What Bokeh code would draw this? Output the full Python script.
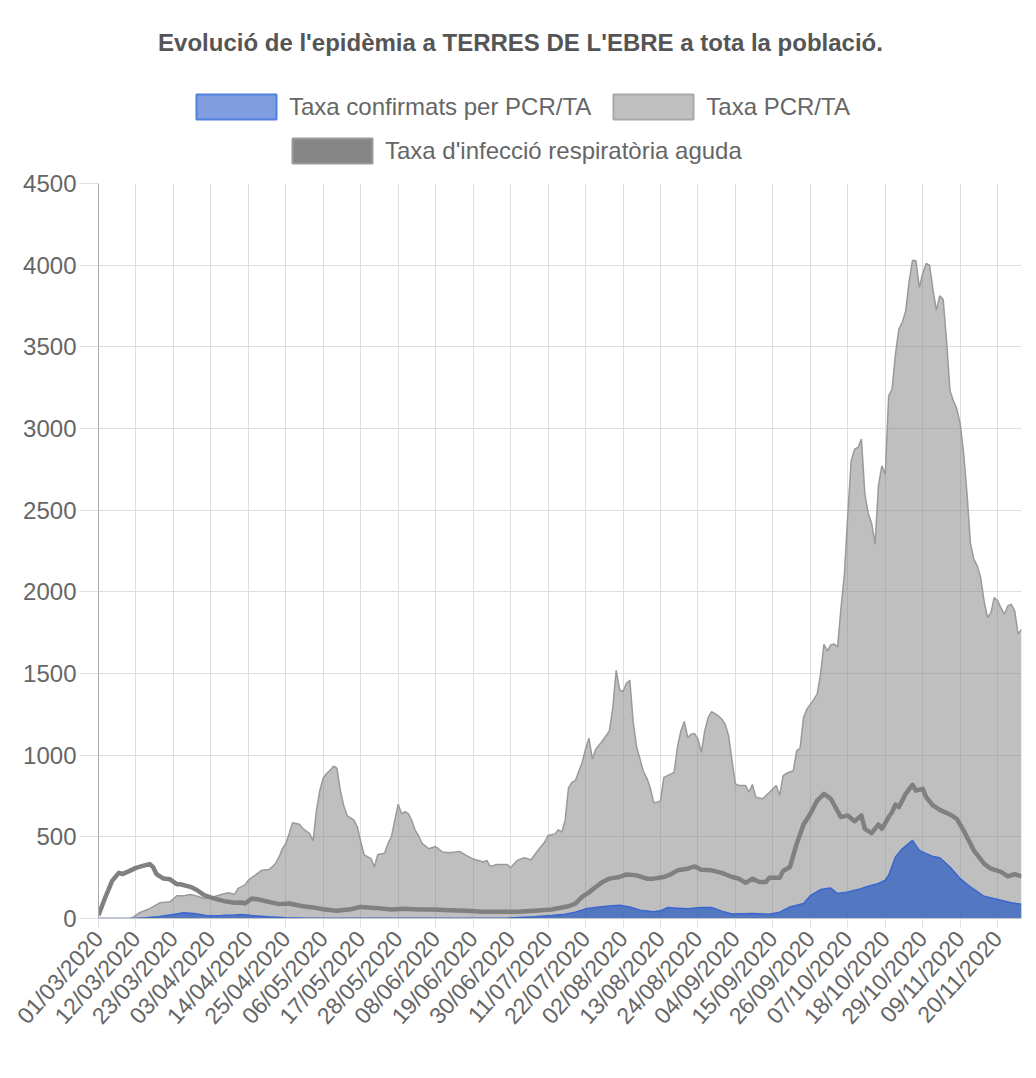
import pandas as pd
from math import radians
from bokeh.plotting import figure
from bokeh.layouts import column
from bokeh.models import Legend, LegendItem, FixedTicker, Range1d, Label
from bokeh.embed import file_html
from bokeh.resources import INLINE

# ---------------- data ----------------
START = "01/03/2020"
END = "27/11/2020"

tick_labels = ["01/03/2020", "12/03/2020", "23/03/2020", "03/04/2020", "14/04/2020",
               "25/04/2020", "06/05/2020", "17/05/2020", "28/05/2020", "08/06/2020",
               "19/06/2020", "30/06/2020", "11/07/2020", "22/07/2020", "02/08/2020",
               "13/08/2020", "24/08/2020", "04/09/2020", "15/09/2020", "26/09/2020",
               "07/10/2020", "18/10/2020", "29/10/2020", "09/11/2020", "20/11/2020"]

y_ticks = [0, 500, 1000, 1500, 2000, 2500, 3000, 3500, 4000, 4500]

# Taxa PCR/TA : day offset since 01/03/2020 -> value
pcr_day = [0, 9, 10, 12, 15, 18, 21, 23, 25, 27, 29, 31, 33, 36, 38, 40, 41, 43, 44, 46,
           48, 50, 51, 52, 53, 54, 55, 56, 57, 59, 60, 62, 63, 64, 65, 66, 67, 68, 69, 70,
           71, 72, 73, 75, 76, 77, 78, 80, 81, 82, 84, 85, 86, 87, 88, 89, 90, 91, 92, 93,
           94, 95, 97, 99, 101, 103, 106, 108, 110, 113, 114, 115, 117, 120, 121, 123, 125,
           127, 129, 131, 132, 134, 135, 136, 137, 138, 139, 140, 142, 143, 144, 145, 146,
           148, 150, 151, 152, 153, 154, 155, 156, 157, 158, 159, 160, 161, 162, 163, 164,
           165, 166, 168, 169, 170, 171, 172, 173, 174, 175, 176, 177, 178, 179, 180, 182,
           183, 184, 185, 186, 187, 188, 190, 191, 192, 193, 195, 197, 199, 200, 201, 202,
           204, 205, 206, 207, 208, 210, 211, 212, 213, 214, 215, 216, 217, 218, 219, 220,
           221, 222, 223, 224, 225, 226, 227, 228, 229, 230, 231, 232, 233, 234, 235, 236,
           237, 238, 239, 240, 241, 242, 243, 244, 245, 246, 247, 248, 249, 250, 251, 252,
           253, 254, 255, 256, 257, 258, 259, 260, 261, 262, 263, 264, 265, 266, 267, 268,
           269, 270, 271]
pcr_val = [0, 0, 5, 35, 60, 96, 102, 139, 139, 147, 137, 122, 128, 147, 157, 149, 184, 206, 235, 265,
           296, 300, 316, 337, 377, 428, 459, 520, 586, 577, 551, 520, 475, 663, 785, 860, 888, 908, 932, 920,
           785, 690, 630, 602, 560, 470, 390, 367, 316, 392, 400, 459, 500, 602, 700, 640, 655, 640, 600, 539,
           505, 460, 427, 441, 407, 402, 411, 386, 364, 346, 356, 319, 331, 331, 311, 356, 372,
           360, 417, 468, 508, 518, 543, 529, 600, 800, 834, 844, 955, 1037, 1104, 976, 1037,
           1088, 1149, 1291, 1519, 1400, 1390, 1440, 1458, 1200, 1050, 976, 900, 860, 800, 710, 712,
           720, 864, 884, 895, 1050, 1150, 1206, 1108, 1128, 1132, 1100, 1017, 1150, 1230, 1267, 1240,
           1221, 1190, 1119, 967, 824, 814, 814, 773, 820, 743, 733, 773, 814, 753, 875, 889,
           905, 1028, 1042, 1231, 1282, 1340, 1374, 1496, 1679, 1639, 1675, 1680, 1663, 1900, 2108, 2475,
           2802, 2873, 2884, 2935, 2600, 2480, 2420, 2292, 2650, 2771, 2720, 3200, 3241, 3455, 3610, 3650,
           3720, 3900, 4030, 4027, 3863, 3950, 4010, 4000, 3850, 3724, 3812, 3790, 3537, 3231, 3170, 3120,
           3030, 2850, 2600, 2300, 2200, 2159, 2088, 1945, 1843, 1870, 1965, 1945, 1900, 1863, 1914, 1924,
           1884, 1741, 1771]

# Taxa d'infecció respiratòria aguda
ira_day = [0, 2, 4, 6, 7, 9, 11, 13, 15, 16, 17, 19, 21, 23, 24, 27, 29, 31, 34, 37, 40, 42, 43,
           45, 47, 50, 53, 56, 60, 63, 66, 70, 74, 77, 81, 86, 90, 94, 98, 103, 108, 113, 118,
           123, 128, 133, 136, 138, 140, 142, 144, 146, 148, 150, 153, 155, 158, 161, 163, 166,
           168, 170, 173, 175, 177, 180, 183, 186, 188, 190, 192, 194, 196, 197, 200, 201, 203,
           205, 207, 209, 211, 213, 215, 217, 218, 220, 222, 224, 225, 227, 229, 230, 232, 233,
           234, 235, 237, 239, 240, 242, 243, 245, 247, 250, 252, 254, 257, 260, 262, 265, 267,
           269, 271]
ira_val = [20, 130, 230, 280, 272, 290, 310, 322, 333, 316, 272, 245, 240, 210, 210, 194, 173, 143, 122, 106, 96, 98, 92,
           122, 116, 102, 88, 92, 75, 68, 57, 47, 57, 71, 65, 55, 59, 55, 55, 51, 47, 41, 41,
           41, 47, 55, 67, 75, 91, 132, 160, 193, 224, 244, 254, 270, 264, 244, 244, 254,
           270, 295, 305, 319, 299, 295, 279, 254, 244, 218, 244, 224, 224, 250, 250, 291, 315,
           458, 576, 641, 722, 763, 733, 657, 621, 631, 596, 631, 549, 523, 576, 549, 621, 651,
           698, 682, 763, 818, 783, 794, 743, 692, 665, 637, 610, 539, 417, 336, 305, 285, 258,
           271, 258]

# Taxa confirmats per PCR/TA
conf_day = [0, 10, 14, 18, 22, 25, 28, 32, 36, 40, 42, 45, 50, 55, 60, 80, 100, 120, 128, 133,
            137, 140, 143, 147, 150, 153, 156, 159, 163, 165, 167, 170, 173, 177, 180, 183, 186,
            192, 197, 200, 203, 207, 209, 212, 215, 217, 220, 223, 226, 229, 231, 232, 234, 236,
            239, 241, 243, 245, 247, 250, 253, 256, 260, 264, 268, 271]
conf_val = [0, 0, 5, 12, 25, 35, 30, 17, 18, 22, 25, 18, 10, 5, 3, 2, 2, 3, 10, 18,
            26, 39, 59, 71, 77, 81, 71, 51, 41, 47, 67, 63, 59, 67, 67, 45, 28,
            31, 26, 39, 71, 92, 140, 177, 187, 153, 163, 177, 197, 214, 234, 265, 376, 427,
            478, 417, 397, 380, 372, 315, 244, 193, 136, 116, 96, 88]

TITLE = "Evolució de l'epidèmia a TERRES DE L'EBRE a tota la població."
LABEL_CONF = "Taxa confirmats per PCR/TA"
LABEL_PCR = "Taxa PCR/TA"
LABEL_IRA = "Taxa d'infecció respiratòria aguda"

# ---------------- derived positions ----------------
start = pd.to_datetime(START, format="%d/%m/%Y")
end_day = (pd.to_datetime(END, format="%d/%m/%Y") - start).days
tick_pos = [(pd.to_datetime(t, format="%d/%m/%Y") - start).days for t in tick_labels]

FONT = "Liberation Sans"
W = 1028
HEADER_H = 168

# ---------------- main chart ----------------
p = figure(frame_width=923, frame_height=735,
           x_range=Range1d(0, end_day), y_range=Range1d(0, 4500),
           output_backend="svg", toolbar_location=None,
           min_border_left=98, min_border_right=7, min_border_top=15, min_border_bottom=150,
           background_fill_color="white", border_fill_color="white",
           outline_line_color=None)

p.xgrid.ticker = FixedTicker(ticks=tick_pos)
p.ygrid.ticker = FixedTicker(ticks=y_ticks)
p.xgrid.grid_line_color = "#dedede"
p.ygrid.grid_line_color = "#dedede"

p.yaxis.ticker = FixedTicker(ticks=y_ticks)
p.yaxis.axis_line_color = "#a8a8a8"
p.yaxis.major_tick_line_color = "#dedede"
p.yaxis.major_tick_out = 19
p.yaxis.major_tick_in = 0
p.yaxis.minor_tick_line_color = None
p.yaxis.major_label_standoff = 3
p.yaxis.major_label_text_font = FONT
p.yaxis.major_label_text_font_size = "24px"
p.yaxis.major_label_text_color = "#666666"

p.xaxis.ticker = FixedTicker(ticks=tick_pos)
p.xaxis.major_label_overrides = {pos: lab for pos, lab in zip(tick_pos, tick_labels)}
p.xaxis.major_label_orientation = radians(48)
p.xaxis.axis_line_color = "#c4c4c4"
p.xaxis.major_tick_line_color = "#dedede"
p.xaxis.major_tick_out = 9
p.xaxis.major_tick_in = 0
p.xaxis.minor_tick_line_color = None
p.xaxis.major_label_standoff = 7
p.xaxis.major_label_text_font = FONT
p.xaxis.major_label_text_font_size = "23px"
p.xaxis.major_label_text_color = "#666666"

p.varea(x=pcr_day, y1=0, y2=pcr_val, fill_color="#808080", fill_alpha=0.5)
p.line(x=pcr_day, y=pcr_val, line_color="#9a9a9a", line_width=1.5)
p.line(x=ira_day, y=ira_val, line_color="#808080", line_width=4.5, line_join="round")
p.varea(x=conf_day, y1=0, y2=conf_val, fill_color="#416ac1", fill_alpha=0.85)
p.line(x=conf_day, y=conf_val, line_color="#3a66d0", line_width=1.5)

# ---------------- header: title + legend (frame aligned with main frame, left = 98) ----------------
h = figure(width=W, height=HEADER_H, x_range=Range1d(0, W), y_range=Range1d(0, HEADER_H),
           output_backend="svg", toolbar_location=None, min_border=0,
           background_fill_color="white", border_fill_color="white", outline_line_color=None)
h.axis.visible = False
h.grid.visible = False

h.add_layout(Label(x=422, y=HEADER_H - 42, x_units="screen", y_units="screen", text=TITLE,
                   text_align="center", text_baseline="middle", text_font=FONT,
                   text_font_size="24px", text_font_style="bold", text_color="#555555"))

nan = float("nan")
r_conf = h.quad(left=[nan], right=[nan], bottom=[nan], top=[nan], fill_color="#7f9ddf", line_color="#5080e0", line_width=2)
r_pcr = h.quad(left=[nan], right=[nan], bottom=[nan], top=[nan], fill_color="#c0c0c0", line_color="#a8a8a8", line_width=2)
r_ira = h.quad(left=[nan], right=[nan], bottom=[nan], top=[nan], fill_color="#858585", line_color="#9a9a9a", line_width=2)

common = dict(orientation="horizontal", glyph_width=100, glyph_height=31,
              label_text_font=FONT, label_text_font_size="24px", label_text_color="#666666",
              label_height=31, label_standoff=3, spacing=12, padding=0, margin=0,
              border_line_alpha=0, background_fill_alpha=0)

leg1 = Legend(items=[LegendItem(label=LABEL_CONF, renderers=[r_conf]),
                     LegendItem(label=LABEL_PCR, renderers=[r_pcr])],
              location=(88, 46), **common)
leg2 = Legend(items=[LegendItem(label=LABEL_IRA, renderers=[r_ira])],
              location=(184, 2), **common)
h.add_layout(leg1, "center")
h.add_layout(leg2, "center")

open("out.html", "w").write(file_html(column(h, p), INLINE))
